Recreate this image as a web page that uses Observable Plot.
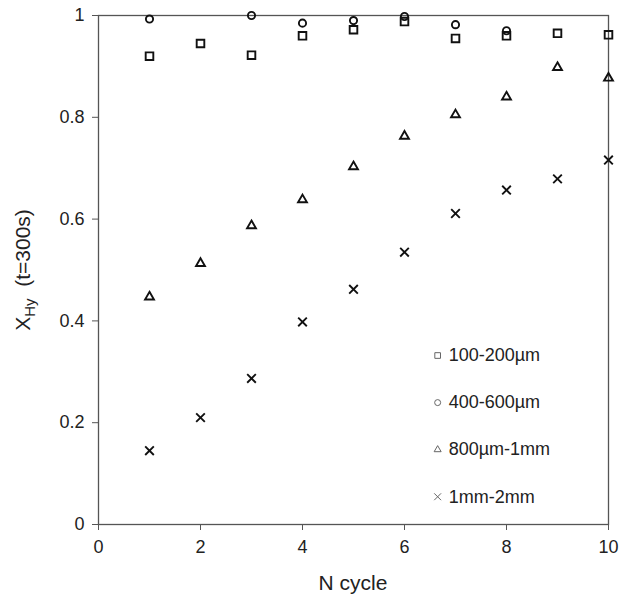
<!DOCTYPE html>
<html>
<head>
<meta charset="utf-8">
<script src="https://cdn.jsdelivr.net/npm/d3@7"></script>
<script src="https://cdn.jsdelivr.net/npm/@observablehq/plot@0.6"></script>
<style>
  html, body { margin: 0; padding: 0; background: #fff; }
  svg { font-family: "Liberation Sans", Arial, sans-serif; }
</style>
</head>
<body>
<div id="chart"></div>
<script>
const cycles = [1, 2, 3, 4, 5, 6, 7, 8, 9, 10];
const s100_200 = [0.920, 0.945, 0.922, 0.960, 0.972, 0.988, 0.955, 0.960, 0.965, 0.962];
const s400_600 = [0.993, null, 1.000, 0.985, 0.990, 0.998, 0.982, 0.970, null, null];
const s800_1mm = [0.447, 0.513, 0.587, 0.638, 0.703, 0.763, 0.805, 0.840, 0.898, 0.877];
const s1mm_2mm = [0.145, 0.210, 0.287, 0.398, 0.462, 0.535, 0.611, 0.657, 0.679, 0.716];
const seriesNames = ["100-200µm", "400-600µm", "800µm-1mm", "1mm-2mm"];
const seriesSymbols = ["square", "circle", "triangle", "times"];
const xTicks = [0, 2, 4, 6, 8, 10];
const yTicks = [0, 0.2, 0.4, 0.6, 0.8, 1];

const allSeries = [s100_200, s400_600, s800_1mm, s1mm_2mm];
const markerR = [4.3, 3.6, 3.3, 4.0];
const legendR = [3.2, 3.0, 2.6, 3.2];

const seriesData = allSeries.map((vals, si) =>
  cycles.map((c, i) => ({x: c, y: vals[i]})).filter(d => d.y != null)
);

// legend rows placed in data space (lower right)
const legend = seriesNames.map((name, i) => ({
  name, symbol: seriesSymbols[i], x: 6.65, y: 0.332 - i * 0.0925
}));

const dotMarks = seriesData.map((d, si) =>
  Plot.dot(d, {x: "x", y: "y", symbol: seriesSymbols[si], r: markerR[si], stroke: "#111", strokeWidth: 1.9, fill: "none"})
);
const legendMarks = legend.map((d, i) =>
  Plot.dot([d], {x: "x", y: "y", symbol: seriesSymbols[i], r: legendR[i], stroke: "#666", strokeWidth: 1, fill: "none"})
);

const plot = Plot.plot({
  width: 620,
  height: 612,
  marginLeft: 98,
  marginRight: 12,
  marginTop: 15,
  marginBottom: 88,
  style: {fontFamily: "Liberation Sans, Arial, sans-serif", fontSize: "18px", color: "#222", background: "#fff"},
  x: {domain: [0, 10], ticks: xTicks, tickFormat: d => String(d)},
  y: {domain: [0, 1], ticks: yTicks, tickFormat: d => String(d)},
  marks: [
    Plot.frame({stroke: "#555", strokeWidth: 1.3}),
    Plot.axisX({ticks: xTicks, tickSize: 6, tickPadding: 10, stroke: "#555", fontSize: 18, label: null, tickFormat: d => String(d)}),
    Plot.axisY({ticks: yTicks, tickSize: 6, tickPadding: 8, stroke: "#555", fontSize: 18, label: null, tickFormat: d => String(d)}),
    ...dotMarks,
    ...legendMarks,
    Plot.text(legend, {x: "x", y: "y", text: "name", dx: 11, textAnchor: "start", fontSize: 18, fill: "#222"})
  ]
});

const svg = d3.select(plot);
// x axis label
svg.append("text")
  .attr("x", 353).attr("y", 590)
  .attr("text-anchor", "middle")
  .attr("font-size", 21)
  .attr("fill", "#222")
  .text("N cycle");
// y axis label with subscript
const yl = svg.append("text")
  .attr("transform", "translate(30,270) rotate(-90)")
  .attr("text-anchor", "middle")
  .attr("font-size", 21)
  .attr("fill", "#222");
yl.append("tspan").text("X");
yl.append("tspan").attr("font-size", 15).attr("dy", 5).text("Hy");
yl.append("tspan").attr("dy", -5).text("\u00a0\u00a0(t=300s)");

document.getElementById("chart").appendChild(plot);
</script>
</body>
</html>
